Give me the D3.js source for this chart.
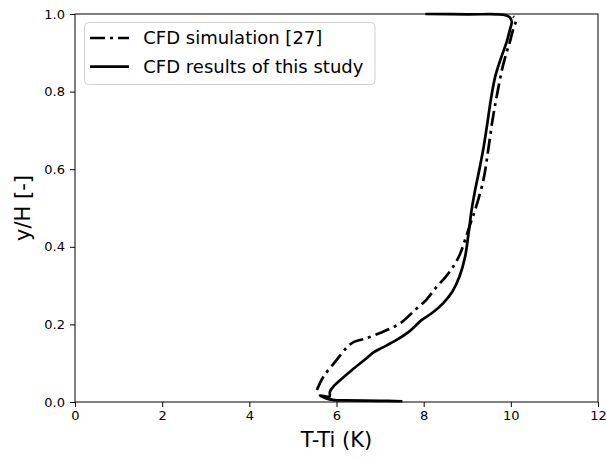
<!DOCTYPE html>
<html>
<head>
<meta charset="utf-8">
<script src="https://cdn.jsdelivr.net/npm/d3@7"></script>
<style>
html,body{margin:0;padding:0;background:#fff;}
svg{display:block;font-family:"DejaVu Sans",sans-serif;}
</style>
</head>
<body>
<svg id="chart" width="607" height="459"></svg>
<script>
// ---- data ----
const seriesNames = ["CFD simulation [27]", "CFD results of this study"];

const simX = [5.55, 5.70, 6.00, 6.25, 6.40, 6.65, 7.00, 7.25, 7.50, 7.80, 8.05, 8.30, 8.50, 8.68, 8.83, 8.95, 9.10, 9.18, 9.37, 9.48, 9.58, 9.68, 9.80, 9.90, 9.98, 10.05, 10.10, 10.12, 10.05];
const simY = [0.031, 0.065, 0.108, 0.142, 0.155, 0.163, 0.178, 0.190, 0.206, 0.237, 0.262, 0.297, 0.322, 0.349, 0.380, 0.418, 0.469, 0.495, 0.572, 0.649, 0.727, 0.790, 0.858, 0.900, 0.929, 0.959, 0.975, 0.985, 0.993];

const studyX = [7.48, 7.00, 6.20, 5.95, 5.75, 5.62, 5.72, 5.84, 5.85, 5.93, 6.10, 6.35, 6.66, 6.85, 7.05, 7.35, 7.65, 7.95, 8.20, 8.45, 8.66, 8.82, 8.95, 9.03, 9.10, 9.17, 9.29, 9.38, 9.45, 9.54, 9.64, 9.77, 9.91, 9.98, 10.02, 9.97, 9.83, 9.00, 8.07];
const studyY = [0.002, 0.003, 0.004, 0.005, 0.010, 0.017, 0.015, 0.014, 0.027, 0.040, 0.058, 0.082, 0.110, 0.128, 0.140, 0.158, 0.180, 0.211, 0.230, 0.255, 0.285, 0.323, 0.374, 0.435, 0.495, 0.540, 0.606, 0.660, 0.710, 0.778, 0.838, 0.885, 0.930, 0.960, 0.980, 0.992, 0.998, 0.999, 1.000];

const xTicks = [0, 2, 4, 6, 8, 10, 12];
const yTicks = [0.0, 0.2, 0.4, 0.6, 0.8, 1.0];
const xLabel = "T-Ti (K)";
const yLabel = "y/H [-]";

// ---- layout ----
const L = 75, R = 598, T = 14, B = 402;
const svg = d3.select("#chart");
const x = d3.scaleLinear().domain([0, 12]).range([L, R]);
const y = d3.scaleLinear().domain([0, 1]).range([B, T]);

const xAxis = d3.axisBottom(x).tickValues(xTicks).tickSize(5).tickPadding(4).tickFormat(d3.format("d"));
const yAxis = d3.axisLeft(y).tickValues(yTicks).tickSize(5).tickPadding(5).tickFormat(d3.format(".1f"));

const gx = svg.append("g").attr("transform", `translate(0,${B})`).call(xAxis);
const gy = svg.append("g").attr("transform", `translate(${L},0)`).call(yAxis);
[gx, gy].forEach(g => {
  g.select(".domain").remove();
  g.selectAll("line").attr("stroke", "#000").attr("stroke-width", 1);
  g.selectAll("text").attr("fill", "#000").style("font-size", "13px").style("font-family", "DejaVu Sans");
});

// lines
const line = d3.line().x(d => x(d[0])).y(d => y(d[1])).curve(d3.curveCatmullRom.alpha(0.5));
const simData = simX.map((v, i) => [v, simY[i]]);
const studyData = studyX.map((v, i) => [v, studyY[i]]);

const plot = svg.append("g");
plot.append("path").datum(studyData).attr("d", line)
  .attr("fill", "none").attr("stroke", "#000").attr("stroke-width", 2.7)
  .attr("stroke-linejoin", "round").attr("stroke-linecap", "square");
plot.append("path").datum(simData).attr("d", line)
  .attr("fill", "none").attr("stroke", "#000").attr("stroke-width", 2.7)
  .attr("stroke-dasharray", "15,5,3,5").attr("stroke-linejoin", "round");

// frame
svg.append("rect").attr("x", L).attr("y", T).attr("width", R - L).attr("height", B - T)
  .attr("fill", "none").attr("stroke", "#000").attr("stroke-width", 1);

// axis labels
svg.append("text").attr("x", (L + R) / 2).attr("y", 447).attr("text-anchor", "middle")
  .style("font-size", "21px").text(xLabel);
svg.append("text").attr("transform", `translate(30,${(T + B) / 2}) rotate(-90)`)
  .attr("text-anchor", "middle").style("font-size", "21px").text(yLabel);

// legend
const lg = svg.append("g");
lg.append("rect").attr("x", 84.5).attr("y", 22.5).attr("width", 290.5).attr("height", 62)
  .attr("rx", 4).attr("fill", "#fff").attr("fill-opacity", 0.8).attr("stroke", "#d0d0d0").attr("stroke-width", 1);
const ly = [38, 66.7];
const dashes = ["15,5,3,5", null];
seriesNames.forEach((n, i) => {
  const l = lg.append("line").attr("x1", 90).attr("x2", 129).attr("y1", ly[i]).attr("y2", ly[i])
    .attr("stroke", "#000").attr("stroke-width", 2.7);
  if (dashes[i]) l.attr("stroke-dasharray", dashes[i]);
  lg.append("text").attr("x", 143.3).attr("y", ly[i] + 6).style("font-size", "18px").text(n);
});
</script>
</body>
</html>
